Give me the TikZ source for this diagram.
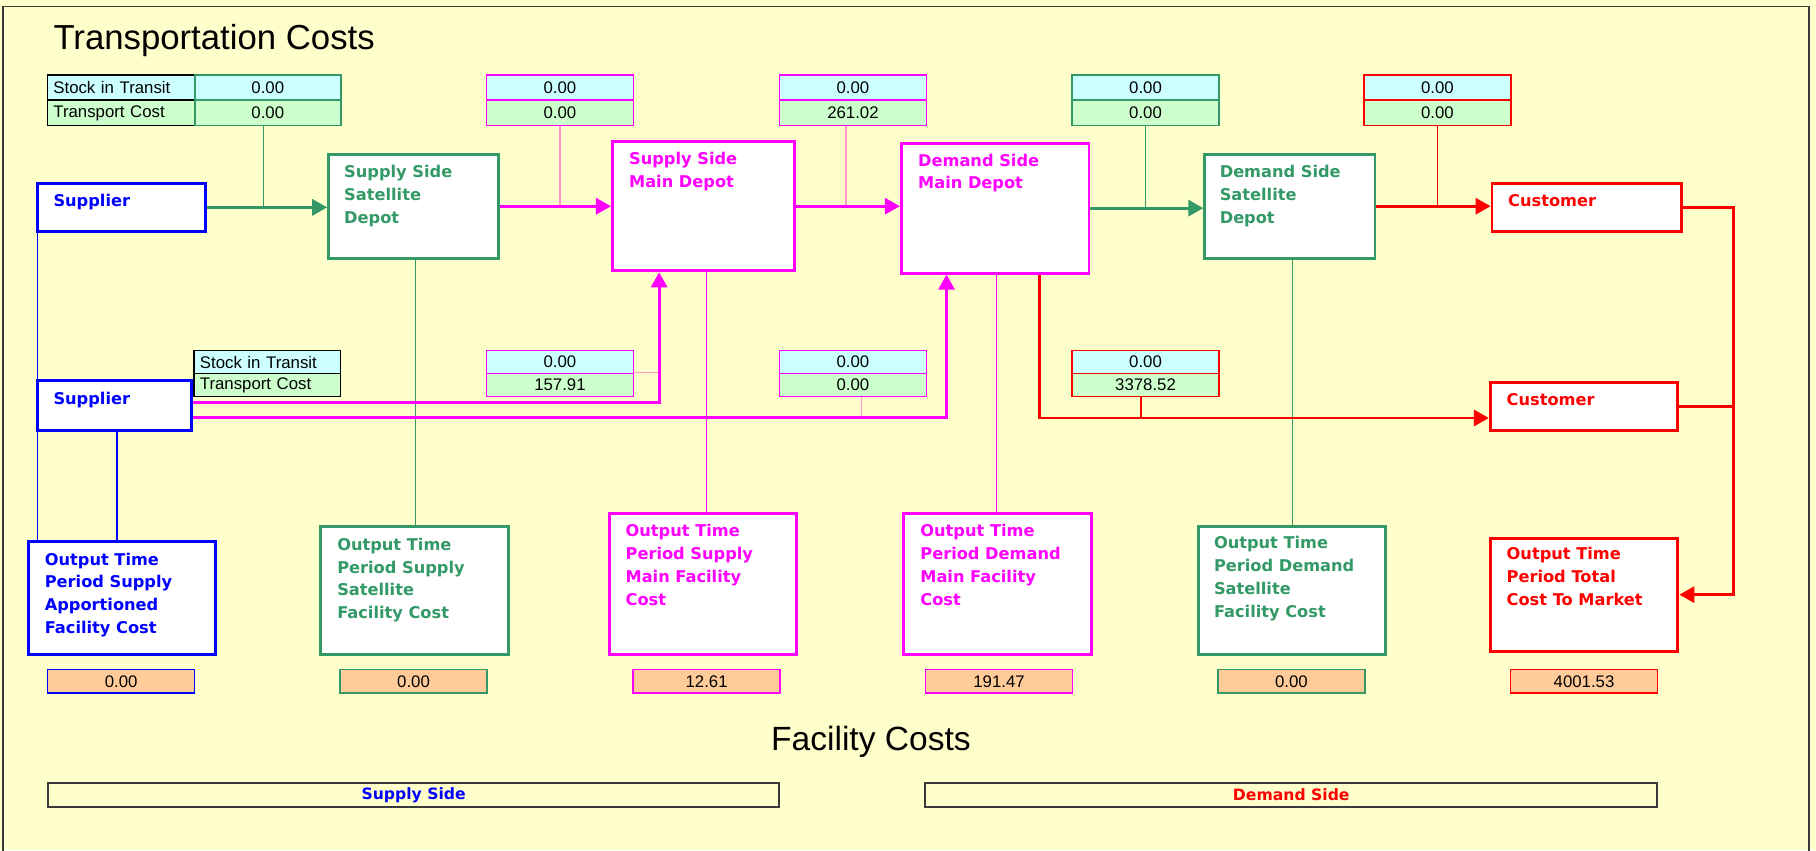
\documentclass[tikz,border=0pt]{standalone}
\usepackage{fontspec}
\setmainfont{Liberation Sans}
\newfontfamily\boxfont{DejaVu Sans}
\usetikzlibrary{arrows.meta,calc}
\definecolor{bg}{HTML}{FFFFCC}
\definecolor{cgreen}{HTML}{339966}
\definecolor{cblue}{HTML}{0000FF}
\definecolor{cmag}{HTML}{FF00FF}
\definecolor{cred}{HTML}{FF0000}
\definecolor{ccyan}{HTML}{CCFFFF}
\definecolor{clgreen}{HTML}{CCFFCC}
\definecolor{corange}{HTML}{FFCC99}
\definecolor{cpink}{HTML}{FF99CC}
\definecolor{cframe}{HTML}{3A3A3A}
\begin{document}
\begin{tikzpicture}[x=1pt,y=-1pt,
  box/.style={draw, line width=2.5pt, fill=white, inner sep=0pt, anchor=north west},
  lbl/.style={anchor=north west, align=left, inner sep=0pt, font=\boxfont\bfseries\fontsize{14}{19.7}\selectfont},
  cell/.style={draw, line width=1.2pt, inner sep=0pt, anchor=north west, minimum width=127pt, font=\fontsize{14.5}{16}\selectfont},
  lcell/.style={draw=black, line width=1.2pt, inner ysep=0pt, inner xsep=5pt, anchor=north west, text width=116.6pt, align=left, font=\fontsize{14.5}{16}\selectfont},
  vbox/.style={draw, line width=1.2pt, fill=corange, inner sep=0pt, anchor=north west, minimum width=127pt, minimum height=20pt, font=\fontsize{14.5}{16}\selectfont},
  bar/.style={draw=cframe, line width=1.8pt, fill=bg, inner sep=0pt, anchor=north west, minimum height=21pt, font=\boxfont\bfseries\fontsize{13.5}{16}\selectfont},
  conn/.style={line width=2.4pt},
  arr/.style={line width=2.4pt, -{Triangle[length=13pt,width=14pt]}},
  thinl/.style={line width=1pt}
]
\useasboundingbox (0,0) rectangle (1568,734);
\fill[bg] (0,0) rectangle (1568,734);
\draw[cframe, line width=1.6pt] (2.6,740) -- (2.6,5.6) -- (1562,5.6) -- (1562,740);

% titles
\node[anchor=base west, inner sep=0pt, font=\fontsize{30}{36}\selectfont] (title) at (46,43) {Transportation Costs};
\node[anchor=base, inner sep=0pt, font=\fontsize{29}{36}\selectfont] (ftitle) at (752,647.7) {Facility Costs};

% main boxes
\node[box, draw=cblue, minimum width=145pt, minimum height=41.6pt] (sup1) at (31,157) {};
\node[lbl, text=cblue] (sup1t) at (46,167.5) {Supplier};
\node[box, draw=cblue, minimum width=133pt, minimum height=43pt] (sup2) at (31,327.5) {};
\node[lbl, text=cblue] (sup2t) at (46,338) {Supplier};
\node[box, draw=cgreen, minimum width=146.5pt, minimum height=89.6pt] (sssd) at (282.5,132) {};
\node[lbl, text=cgreen] (sssdt) at (297,142.5) {Supply Side\\Satellite\\Depot};
\node[box, draw=cmag, minimum width=157.5pt, minimum height=111.6pt] (ssmd) at (527.6,121) {};
\node[lbl, text=cmag] (ssmdt) at (543,131.5) {Supply Side\\Main Depot};
\node[box, draw=cmag, minimum width=162pt, minimum height=112.3pt] (dsmd) at (777,122.3) {};
\node[lbl, text=cmag] (dsmdt) at (792.6,132.5) {Demand Side\\Main Depot};
\node[box, draw=cgreen, minimum width=147pt, minimum height=89.6pt] (dssd) at (1039,132) {};
\node[lbl, text=cgreen] (dssdt) at (1053,142.5) {Demand Side\\Satellite\\Depot};
\node[box, draw=cred, minimum width=163.8pt, minimum height=41.6pt] (cust1) at (1287,157) {};
\node[lbl, text=cred] (cust1t) at (1302,168) {Customer};
\node[box, draw=cred, minimum width=162pt, minimum height=41.4pt] (cust2) at (1285.5,329) {};
\node[lbl, text=cred] (cust2t) at (1300.7,339.2) {Customer};

% output boxes
\node[box, draw=cblue, minimum width=162pt, minimum height=98pt] (bout) at (23,466) {};
\node[lbl, text=cblue] (boutt) at (38.5,477) {Output Time\\Period Supply\\Apportioned\\Facility Cost};
\node[box, draw=cgreen, minimum width=162pt, minimum height=111pt] (gout) at (275.5,453) {};
\node[lbl, text=cgreen] (goutt) at (291,464.3) {Output Time\\Period Supply\\Satellite\\Facility Cost};
\node[box, draw=cmag, minimum width=161.5pt, minimum height=122.2pt] (mout) at (525,441.8) {};
\node[lbl, text=cmag] (moutt) at (540,452.8) {Output Time\\Period Supply\\Main Facility\\Cost};
\node[box, draw=cmag, minimum width=162pt, minimum height=122.2pt] (nout) at (779,441.8) {};
\node[lbl, text=cmag] (noutt) at (794.5,452.8) {Output Time\\Period Demand\\Main Facility\\Cost};
\node[box, draw=cgreen, minimum width=161.5pt, minimum height=111pt] (hout) at (1033.5,453) {};
\node[lbl, text=cgreen] (houtt) at (1048,463) {Output Time\\Period Demand\\Satellite\\Facility Cost};
\node[box, draw=cred, minimum width=162pt, minimum height=97.6pt] (rout) at (1285.5,463.4) {};
\node[lbl, text=cred] (routt) at (1300.7,472.6) {Output Time\\Period Total\\Cost To Market};

% value boxes
\node[vbox, draw=cblue] (v1) at (40.5,577.6) {0.00};
\node[vbox, draw=cgreen] (v2) at (293,577.6) {0.00};
\node[vbox, draw=cmag] (v3) at (546,577.6) {12.61};
\node[vbox, draw=cmag] (v4) at (798.5,577.6) {191.47};
\node[vbox, draw=cgreen] (v5) at (1051,577.6) {0.00};
\node[vbox, draw=cred] (v6) at (1303.6,577.6) {4001.53};

% top tables
\node[lcell, fill=ccyan, minimum height=21.8pt] (l1a) at (40.5,64) {Stock in Transit};
\node[lcell, fill=clgreen, minimum height=22.2pt] (l1b) at (40.5,85.8) {Transport Cost};
\node[cell, fill=ccyan, draw=cgreen, minimum width=126.1pt, minimum height=21.8pt] (t1a) at (167.6,64) {0.00};
\node[cell, fill=clgreen, draw=cgreen, minimum width=126.1pt, minimum height=22.2pt] (t1b) at (167.6,85.8) {0.00};
\node[cell, fill=ccyan, draw=cmag, minimum height=21.8pt] (p1a) at (419.4,64) {0.00};
\node[cell, fill=clgreen, draw=cmag, minimum height=22.2pt] (p1b) at (419.4,85.8) {0.00};
\node[cell, fill=ccyan, draw=cmag, minimum height=21.8pt] (p2a) at (672.4,64) {0.00};
\node[cell, fill=clgreen, draw=cmag, minimum height=22.2pt] (p2b) at (672.4,85.8) {261.02};
\node[cell, fill=ccyan, draw=cgreen, minimum height=21.8pt] (g2a) at (925,64) {0.00};
\node[cell, fill=clgreen, draw=cgreen, minimum height=22.2pt] (g2b) at (925,85.8) {0.00};
\node[cell, fill=ccyan, draw=cred, minimum height=21.8pt] (r1a) at (1177,64) {0.00};
\node[cell, fill=clgreen, draw=cred, minimum height=22.2pt] (r1b) at (1177,85.8) {0.00};

% lower tables
\node[lcell, fill=ccyan, minimum height=19.6pt] (l2a) at (167,302.2) {Stock in Transit};
\node[lcell, fill=clgreen, minimum height=19.9pt] (l2b) at (167,321.8) {Transport Cost};
\node[cell, fill=ccyan, draw=cmag, minimum height=19.6pt] (p3a) at (419.4,302.2) {0.00};
\node[cell, fill=clgreen, draw=cmag, minimum height=19.9pt] (p3b) at (419.4,321.8) {157.91};
\node[cell, fill=ccyan, draw=cmag, minimum height=19.6pt] (p4a) at (672.4,302.2) {0.00};
\node[cell, fill=clgreen, draw=cmag, minimum height=19.9pt] (p4b) at (672.4,321.8) {0.00};
\node[cell, fill=ccyan, draw=cred, minimum height=19.6pt] (r2a) at (925,302.2) {0.00};
\node[cell, fill=clgreen, draw=cred, minimum height=19.9pt] (r2b) at (925,321.8) {3378.52};

% bottom bars
\node[bar, minimum width=631.5pt, text=cblue] (sbar) at (40.5,675) {Supply Side};
\node[bar, minimum width=632pt, text=cred] (dbar) at (798,675) {Demand Side};

% coordinates
\coordinate (sup2a) at ($(sup2.north east)+(0,20)$);
\coordinate (sup2b) at ($(sup2.north east)+(0,33)$);
\coordinate (ssmdin) at ($(ssmd.south)+(-38.5,0)$);
\coordinate (dsmdin) at ($(dsmd.south)+(-42,0)$);
\coordinate (dsmdout) at ($(dsmd.south)+(38,0)$);
\coordinate (cust2in) at ($(cust2.south west)+(0,-12)$);
\coordinate (rbus) at ($(rout.east)+(47,0)$);
\coordinate (t1tie) at ($(t1b.south)+(-4,0)$);
\coordinate (p2tie) at ($(p2b.south)+(-6,0)$);
\coordinate (p4tie) at ($(p4b.south)+(7,0)$);
\coordinate (r2tie) at ($(r2b.south)+(-4,0)$);
\coordinate (s1down) at ($(sup1.south west)+(1.2,0)$);
\coordinate (s2down) at ($(sup2.south west)+(70,0)$);
\coordinate (sssddown) at ($(sssd.south)+(2,0)$);
\coordinate (ssmddown) at ($(ssmd.south)+(2.5,0)$);
\coordinate (dsmddown) at ($(dsmd.south)+(1,0)$);
\coordinate (dssddown) at ($(dssd.south)+(2.5,0)$);

% thin drop lines
\draw[thinl, cblue] (s1down) -- (s1down |- bout.north);
\draw[thinl, cblue] (s2down) -- (s2down |- bout.north);
\draw[thinl, cgreen] (sssddown) -- (sssddown |- gout.north);
\draw[thinl, cmag] (ssmddown) -- (ssmddown |- mout.north);
\draw[thinl, cmag] (dsmddown) -- (dsmddown |- nout.north);
\draw[thinl, cgreen] (dssddown) -- (dssddown |- hout.north);

% ties
\draw[thinl, cgreen] (t1tie) -- (t1tie |- sup1.east);
\draw[thinl, cpink] (p1b.south) -- (p1b.south |- sssd.east);
\draw[thinl, cpink] (p2tie) -- (p2tie |- ssmd.east);
\draw[thinl, cgreen] (g2b.south) -- (g2b.south |- dsmd.east);
\draw[thinl, cred] (r1b.south) -- (r1b.south |- dssd.east);
\draw[thinl, cpink] (p3b.north east) -- (p3b.north east -| ssmdin);
\draw[thinl, cpink] (p4tie) -- (p4tie |- sup2b);
\draw[thinl, cred] (r2tie) -- (r2tie |- cust2in);

% top row arrows
\draw[arr, cgreen] (sup1.east) -- (sup1.east -| sssd.west);
\draw[arr, cmag] (sssd.east) -- (sssd.east -| ssmd.west);
\draw[arr, cmag] (ssmd.east) -- (ssmd.east -| dsmd.west);
\draw[arr, cgreen] (dsmd.east) -- (dsmd.east -| dssd.west);
\draw[arr, cred] (dssd.east) -- (dssd.east -| cust1.west);

% lower arrows
\draw[arr, cmag] (sup2a) -| (ssmdin);
\draw[arr, cmag] (sup2b) -| (dsmdin);
\draw[arr, cred] (dsmdout) |- (cust2in);

% right bus
\draw[arr, cred] (cust1.east) -| (rbus) -- (rout.east);
\draw[conn, cred] (cust2.east) -- (cust2.east -| rbus);
\end{tikzpicture}
\end{document}
